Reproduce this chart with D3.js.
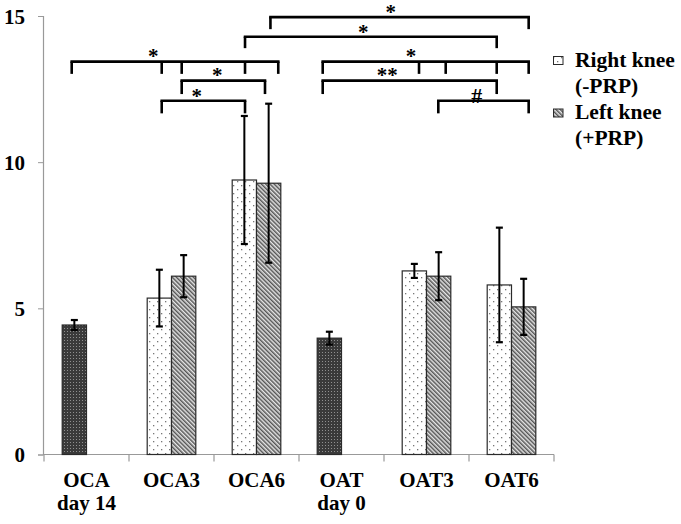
<!DOCTYPE html>
<html>
<head>
<meta charset="utf-8">
<script src="https://cdn.jsdelivr.net/npm/d3@7/dist/d3.min.js"></script>
<style>
  html, body { margin: 0; padding: 0; background: #fff; }
  svg { display: block; }
  text { font-family: "Liberation Serif", "Times New Roman", serif; font-weight: bold; fill: #000; }
</style>
</head>
<body>
<svg id="chart" width="681" height="524"></svg>
<script>
// ---------- data ----------
const categories = ["OCA|day 14", "OCA3", "OCA6", "OAT|day 0", "OAT3", "OAT6"];
const controlValues = [4.43, null, null, 3.98, null, null];
const controlErrors = [0.17, null, null, 0.22, null, null];
const rightValues = [null, 5.35, 9.39, null, 6.28, 5.80];
const rightErrors = [null, 0.97, 2.19, null, 0.24, 1.96];
const leftValues = [null, 6.10, 9.28, null, 6.10, 5.05];
const leftErrors = [null, 0.72, 2.72, null, 0.82, 0.96];
const yTicks = [0, 5, 10, 15];
const legendLabels = [["Right knee", "(-PRP)"], ["Left knee", "(+PRP)"]];
// significance brackets: positions in category units (0..6), heights in value units
const brackets = [
  { y: 14.96, yEnd: 14.55, drops: [2.664, 5.702], label: "*", at: 4.079 },
  { y: 14.29, yEnd: 13.90, drops: [2.365, 5.326], label: "*", at: 3.757 },
  { y: 13.44, yEnd: 13.02, drops: [0.326, 1.385, 1.62, 2.365, 2.756], label: "*", at: 1.286 },
  { y: 12.79, yEnd: 12.33, drops: [1.62, 2.60], label: "*", at: 2.039 },
  { y: 12.10, yEnd: 11.67, drops: [1.385, 2.365], label: "*", at: 1.796 },
  { y: 13.44, yEnd: 13.02, drops: [3.279, 4.412, 4.726, 5.326, 5.702], label: "*", at: 4.318 },
  { y: 12.79, yEnd: 12.33, drops: [3.279, 5.326], label: "**", at: 4.039 },
  { y: 12.10, yEnd: 11.67, drops: [4.639, 5.702], label: "#", at: 5.09 }
];

// ---------- layout ----------
const svg = d3.select("#chart");
const axisLeftX = 43, axisRightX = 554, y0px = 454.5, y15px = 16;

const x0 = d3.scaleBand().domain(categories).range([axisLeftX + 1, axisRightX]).padding(0);
const half = 24.3;
const x1 = d3.scaleBand().domain(["right", "left"])
  .range([x0.bandwidth() / 2 - half, x0.bandwidth() / 2 + half]).padding(0);
const y = d3.scaleLinear().domain([0, 15]).range([y0px, y15px]);
const xPos = d3.scaleLinear().domain([0, 6]).range([axisLeftX + 1, axisRightX]);

// ---------- patterns ----------
const defs = svg.append("defs");
const pd = defs.append("pattern").attr("id", "dark").attr("patternUnits", "userSpaceOnUse")
  .attr("width", 3).attr("height", 3);
pd.append("rect").attr("width", 3).attr("height", 3).attr("fill", "#3a3a3a");
pd.append("rect").attr("x", 1).attr("y", 1).attr("width", 1).attr("height", 1).attr("fill", "#909090");
const pw = defs.append("pattern").attr("id", "dots").attr("patternUnits", "userSpaceOnUse")
  .attr("width", 8).attr("height", 8);
pw.append("rect").attr("width", 8).attr("height", 8).attr("fill", "#fff");
pw.append("rect").attr("x", 1).attr("y", 1).attr("width", 1.3).attr("height", 1.3).attr("fill", "#777");
pw.append("rect").attr("x", 5).attr("y", 5).attr("width", 1.3).attr("height", 1.3).attr("fill", "#777");
const ph = defs.append("pattern").attr("id", "hatch").attr("patternUnits", "userSpaceOnUse")
  .attr("width", 3).attr("height", 3).attr("patternTransform", "rotate(-45)");
ph.append("rect").attr("width", 3).attr("height", 3).attr("fill", "#e6e6e6");
ph.append("rect").attr("x", 0).attr("y", 0).attr("width", 1.5).attr("height", 3).attr("fill", "#555");

// ---------- axes ----------
const yAxis = d3.axisLeft(y).tickValues(yTicks).tickSize(5).tickPadding(13).tickFormat(d3.format("d"));
const gy = svg.append("g").attr("transform", `translate(${axisLeftX},0)`).call(yAxis);
gy.select(".domain").attr("stroke", "#999").attr("stroke-width", 1.2);
gy.selectAll(".tick line").attr("stroke", "#999");
gy.selectAll(".tick text").style("font-size", "21px").style("font-family", "Liberation Serif, serif")
  .style("font-weight", "bold").attr("fill", "#000").attr("dy", "0.34em");

const boundaries = categories.map(c => x0(c)).concat([x0(categories[categories.length - 1]) + x0.bandwidth()]);
svg.append("line").attr("x1", axisLeftX).attr("x2", axisRightX).attr("y1", y(0)).attr("y2", y(0))
  .attr("stroke", "#999").attr("stroke-width", 1.2);
svg.selectAll(".xtick").data(boundaries).enter().append("line")
  .attr("x1", d => d).attr("x2", d => d).attr("y1", y(0)).attr("y2", y(0) + 7)
  .attr("stroke", "#999").attr("stroke-width", 1.2);

categories.forEach(c => {
  const lines = c.split("|");
  const t = svg.append("text").attr("text-anchor", "middle").style("font-size", "21px");
  lines.forEach((ln, i) => {
    t.append("tspan").attr("x", x0(c) + x0.bandwidth() / 2).attr("y", 487 + i * 23).text(ln);
  });
});

// ---------- bars ----------
function drawSeries(values, errors, slot, fill) {
  const data = categories.map((c, i) => ({ c, v: values[i], e: errors[i] })).filter(d => d.v != null);
  const g = svg.append("g");
  g.selectAll("rect").data(data).enter().append("rect")
    .attr("x", d => x0(d.c) + x1(slot))
    .attr("width", x1.bandwidth())
    .attr("y", d => y(d.v))
    .attr("height", d => y(0) - y(d.v))
    .attr("fill", fill).attr("stroke", "#2a2a2a").attr("stroke-width", 1.2);
  const cx = d => x0(d.c) + x1(slot) + x1.bandwidth() / 2;
  g.selectAll(".err").data(data).enter().append("line")
    .attr("x1", cx).attr("x2", cx)
    .attr("y1", d => y(d.v + d.e)).attr("y2", d => y(d.v - d.e))
    .attr("stroke", "#000").attr("stroke-width", 2);
  [1, -1].forEach(s => {
    g.selectAll(".cap" + s).data(data).enter().append("line")
      .attr("x1", d => cx(d) - 3.5).attr("x2", d => cx(d) + 3.5)
      .attr("y1", d => y(d.v + s * d.e)).attr("y2", d => y(d.v + s * d.e))
      .attr("stroke", "#000").attr("stroke-width", 2.2);
  });
}
drawSeries(controlValues, controlErrors, "right", "url(#dark)");
drawSeries(rightValues, rightErrors, "right", "url(#dots)");
drawSeries(leftValues, leftErrors, "left", "url(#hatch)");

// ---------- brackets ----------
const gb = svg.append("g");
brackets.forEach(b => {
  const xs = b.drops.map(xPos);
  gb.append("line").attr("x1", d3.min(xs)).attr("x2", d3.max(xs))
    .attr("y1", y(b.y)).attr("y2", y(b.y)).attr("stroke", "#000").attr("stroke-width", 2.6)
    .attr("stroke-linecap", "square");
  xs.forEach(xx => {
    gb.append("line").attr("x1", xx).attr("x2", xx).attr("y1", y(b.y)).attr("y2", y(b.yEnd))
      .attr("stroke", "#000").attr("stroke-width", 2.6);
  });
  const isHash = b.label === "#";
  gb.append("text").attr("x", xPos(b.at)).attr("y", y(b.y) + (isHash ? 2 : 1.8))
    .attr("text-anchor", "middle").style("font-size", isHash ? "22px" : "21px")
    .text(b.label);
});

// ---------- legend ----------
const legendFills = ["url(#dots)", "url(#hatch)"];
legendLabels.forEach((lab, i) => {
  const top = 56.5 + i * 52.5;
  svg.append("rect").attr("x", 553.5).attr("y", top).attr("width", 9.5).attr("height", 8)
    .attr("fill", legendFills[i]).attr("stroke", "#2a2a2a").attr("stroke-width", 1);
  const t = svg.append("text").style("font-size", "21.5px");
  t.append("tspan").attr("x", 575).attr("y", top + 10).text(lab[0]);
  t.append("tspan").attr("x", 575).attr("y", top + 36).text(lab[1]);
});
</script>
</body>
</html>
